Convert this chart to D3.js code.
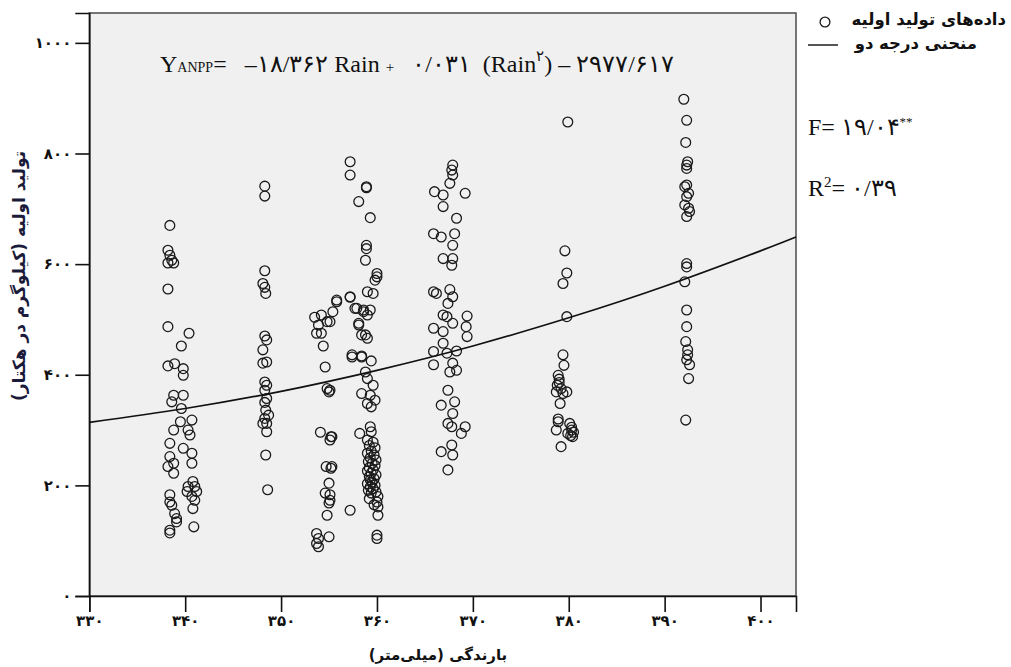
<!DOCTYPE html>
<html>
<head>
<meta charset="utf-8">
<script src="https://cdn.jsdelivr.net/npm/d3@7"></script>
<style>
  body { margin: 0; background: #fff; }
  svg { display: block; }
  text { white-space: pre; }
</style>
</head>
<body>
<svg id="chart" width="1011" height="667"></svg>
<script>
// ---------------- data ----------------
const xTicks = [330, 340, 350, 360, 370, 380, 390, 400];
const yTicks = [0, 200, 400, 600, 800, 1000];

// observed points [rain (mm), ANPP (kg/ha)]
const observations = [
  // ~339
  [338.4,670],[338.2,625],[338.4,616],[338.6,607],[338.8,602],[338.2,602],[338.2,555],[338.2,487],
  [340.4,475],[339.6,452],[338.2,416],[338.9,420],[339.8,411],[339.8,399],[338.8,363],[339.8,363],
  [338.6,351],[339.6,339],[340.7,318],[339.5,315],[338.8,300],[340.3,300],[340.5,291],[338.4,276],
  [339.8,267],[340.7,258],[338.4,252],[338.8,240],[340.7,240],[338.2,234],[338.8,222],[340.8,207],
  [340.3,198],[341.0,198],[341.2,189],[340.2,189],[340.7,180],[338.4,183],[341.0,173],[338.4,170],
  [338.6,164],[340.8,158],[338.9,149],[339.1,140],[339.1,134],[340.9,125],[338.4,119],[338.4,114],
  // ~348
  [348.3,741],[348.3,723],[348.3,588],[348.1,565],[348.3,558],[348.4,547],[348.3,470],[348.5,463],
  [348.1,445],[348.1,421],[348.5,423],[348.3,387],[348.5,381],[348.3,372],[348.5,357],[348.4,336],
  [348.7,327],[348.3,321],[348.5,312],[348.1,312],[348.5,297],[348.4,255],[348.6,192],[348.3,350],
  // ~354-358
  [353.5,504],[354.2,508],[354.8,496],[353.9,490],[353.7,475],[354.2,475],[354.4,452],[354.6,414],
  [354.8,375],[355.0,369],[354.1,296],[355.2,288],[355.1,282],[354.7,234],[355.2,231],[355.0,204],
  [354.6,186],[355.1,183],[355.0,168],[354.8,146],[353.7,113],[353.9,104],[355.0,107],[353.7,95],
  [353.9,89],[355.8,535],[357.2,540],[357.9,520],[358.6,517],[359.0,508],[358.1,490],[358.4,472],
  [357.4,436],[358.4,434],[357.2,155],[355.1,496],[355.1,372],[355.3,288],[355.3,234],[355.1,173],
  [355.8,532],[355.4,514],
  // ~359-360
  [357.2,785],[357.2,761],[358.9,740],[358.9,738],[358.1,713],[359.3,684],[358.9,634],[358.9,628],
  [358.8,607],[360.0,583],[360.0,577],[359.8,571],[359.0,550],[359.6,547],[357.2,541],[357.7,520],
  [358.6,514],[359.3,517],[358.1,493],[358.8,472],[359.0,466],[357.4,432],[358.4,432],[359.4,425],
  [358.8,405],[359.0,393],[359.6,381],[358.4,366],[359.3,363],[359.0,348],[359.4,342],[359.8,354],
  [358.2,294],[359.3,306],[359.4,297],
  [359.0,282],[359.6,278],[359.2,272],[359.8,268],[359.4,262],[359.0,258],[359.7,255],[359.3,250],
  [359.9,246],[359.1,243],[359.5,240],[359.8,236],[359.2,232],[359.6,228],[359.0,226],[359.4,222],
  [359.9,219],[359.2,216],[359.7,212],[359.3,210],[359.5,206],[359.0,203],[359.8,200],[359.3,197],
  [359.6,194],[359.1,191],[359.9,188],[359.4,186],[360.1,180],[359.2,176],[360.0,170],[359.7,165],
  [360.1,161],[360.1,146],[360.0,110],[360.0,104],
  // ~367
  [367.9,779],[367.8,770],[367.9,761],[367.6,746],[366.0,731],[366.9,725],[369.2,728],[366.9,704],
  [368.3,683],[365.9,655],[366.7,649],[368.1,655],[367.9,634],[366.9,610],[367.9,610],[367.8,598],
  [365.9,550],[366.2,547],[367.6,554],[367.9,541],[367.4,529],[366.9,508],[367.3,505],[369.4,506],
  [369.3,487],[369.4,469],[365.9,484],[366.9,478],[367.9,493],[366.9,457],[365.9,442],[367.3,439],
  [368.3,443],[365.9,418],[367.9,421],[367.6,405],[368.3,408],[367.4,372],[366.7,345],[368.1,351],
  [367.9,330],[367.4,312],[367.8,306],[369.2,306],[368.8,294],[366.7,261],[367.8,273],[367.9,255],
  [367.4,228],
  // ~379
  [379.9,857],[379.6,624],[379.8,584],[379.4,565],[379.8,505],[379.4,436],[379.5,417],[378.9,399],
  [379.0,392],[378.8,381],[378.7,369],[379.8,369],[379.1,348],[379.4,366],[378.9,315],[378.7,300],
  [380.1,312],[380.3,300],[380.4,288],[379.9,294],[379.2,270],[380.3,305],[380.5,296],[380.2,290],
  [378.9,320],[379.0,386],[379.2,375],
  // ~392
  [392.0,898],[392.3,860],[392.2,820],[392.4,785],[392.3,779],[392.3,773],[392.3,743],[392.1,740],
  [392.5,728],[392.3,722],[392.1,707],[392.5,701],[392.6,695],[392.3,686],[392.3,601],[392.3,595],
  [392.1,568],[392.3,517],[392.3,487],[392.2,460],[392.4,445],[392.4,436],[392.3,427],[392.6,418],
  [392.5,393],[392.2,318]
];

// fitted quadratic curve
const curveRain = [330, 340, 350, 360, 370, 380, 390, 400, 403.7];
const curveAnpp = [314, 339, 370, 408, 452, 503, 560, 624, 649];

// ---------------- drawing ----------------
const fa = n => String(n).replace(/\d/g, d => "۰۱۲۳۴۵۶۷۸۹"[d]);
const RLM = "\u200F";
const faFont = "'DejaVu Sans', sans-serif";
const serif = "'Liberation Serif', 'Times New Roman', serif";

const svg = d3.select("#chart");
const L = 89.3, R = 796, T = 13, B = 596;
const x = d3.scaleLinear().domain([330, 403.7]).range([L, R]);
const y = d3.scaleLinear().domain([0, 1054]).range([B, T]);

// plot background
svg.append("rect").attr("x", L).attr("y", T).attr("width", R - L).attr("height", B - T)
  .attr("fill", "#f0f0f0").attr("stroke", "#555").attr("stroke-width", 1.6);

// axes
const yAxis = d3.axisLeft(y).tickValues(yTicks).tickSize(14).tickPadding(4).tickFormat(fa);
const gy = svg.append("g").attr("transform", `translate(${L},0)`).call(yAxis);
const xAxis = d3.axisBottom(x).tickValues(xTicks).tickSize(16).tickPadding(3).tickFormat(fa);
const gx = svg.append("g").attr("transform", `translate(0,${B})`).call(xAxis);
[gx, gy].forEach(g => {
  g.select(".domain").attr("stroke", "#111").attr("stroke-width", 1.6);
  g.selectAll(".tick line").attr("stroke", "#111").attr("stroke-width", 1.6);
  g.selectAll(".tick text").attr("font-family", faFont).attr("font-weight", "bold")
    .attr("font-size", 15).attr("fill", "#111");
});

// points
svg.append("g").selectAll("circle").data(observations).join("circle")
  .attr("cx", d => x(d[0])).attr("cy", d => y(d[1])).attr("r", 4.9)
  .attr("fill", "none").attr("stroke", "#1a1a1a").attr("stroke-width", 1.3);

// curve
const curveData = curveRain.map((r, i) => [r, curveAnpp[i]]);
svg.append("path").datum(curveData)
  .attr("d", d3.line().x(d => x(d[0])).y(d => y(d[1])).curve(d3.curveNatural))
  .attr("fill", "none").attr("stroke", "#111").attr("stroke-width", 1.7);

// equation
const eq = svg.append("text").attr("x", 160).attr("y", 72)
  .attr("font-family", serif).attr("font-size", 24).attr("fill", "#111");
eq.append("tspan").text("Y");
eq.append("tspan").attr("font-size", 14).text("ANPP");
eq.append("tspan").text("=   \u2013");
eq.append("tspan").attr("letter-spacing", 2).text(fa("18") + "/" + fa("362"));
eq.append("tspan").text(" Rain ");
eq.append("tspan").attr("font-size", 15).text("+");
eq.append("tspan").text("   ");
eq.append("tspan").attr("letter-spacing", 2).text(fa("0") + "/" + fa("031"));
eq.append("tspan").text("  (Rain");
eq.append("tspan").attr("font-size", 15).attr("dy", -11).text(fa("2"));
eq.append("tspan").attr("dy", 11).text(") \u2013 ");
eq.append("tspan").attr("letter-spacing", 1.5).text(fa("2977") + "/" + fa("617"));

// stats
const fT = svg.append("text").attr("x", 808).attr("y", 135)
  .attr("font-family", serif).attr("font-size", 24).attr("fill", "#111");
fT.append("tspan").text("F= ");
fT.append("tspan").attr("letter-spacing", 2).text(fa("19") + "/" + fa("04"));
fT.append("tspan").attr("font-size", 13).attr("dy", -9).text("**");
const rT = svg.append("text").attr("x", 808).attr("y", 196)
  .attr("font-family", serif).attr("font-size", 24).attr("fill", "#111");
rT.append("tspan").text("R");
rT.append("tspan").attr("font-size", 15).attr("dy", -9).text("2");
rT.append("tspan").attr("dy", 9).text("= ");
rT.append("tspan").attr("letter-spacing", 2).text(fa("0") + "/" + fa("39"));

// legend
svg.append("circle").attr("cx", 825).attr("cy", 22).attr("r", 4.9)
  .attr("fill", "none").attr("stroke", "#1a1a1a").attr("stroke-width", 1.3);
svg.append("line").attr("x1", 808).attr("x2", 838).attr("y1", 45).attr("y2", 45)
  .attr("stroke", "#555").attr("stroke-width", 2);
svg.append("text").attr("x", 1006).attr("y", 19).attr("dy", "0.35em").attr("text-anchor", "end")
  .attr("font-family", faFont).attr("font-weight", "bold").attr("font-size", 16.5).attr("fill", "#111")
  .text(RLM + "داده‌های تولید اولیه" + RLM);
svg.append("text").attr("x", 977).attr("y", 43).attr("dy", "0.35em").attr("text-anchor", "end")
  .attr("font-family", faFont).attr("font-weight", "bold").attr("font-size", 16.5).attr("fill", "#111")
  .text(RLM + "منحنی درجه دو" + RLM);

// axis titles
svg.append("text").attr("transform", "translate(19,276) rotate(-90)").attr("text-anchor", "middle")
  .attr("dy", "0.35em").attr("font-family", faFont).attr("font-weight", "bold").attr("font-size", 17)
  .attr("fill", "#1a1a3a").text(RLM + "تولید اولیه (کیلوگرم در هکتار)" + RLM);
svg.append("text").attr("x", 438).attr("y", 655).attr("text-anchor", "middle").attr("dy", "0.35em")
  .attr("font-family", faFont).attr("font-weight", "bold").attr("font-size", 15).attr("fill", "#111")
  .text(RLM + "بارندگی (میلی‌متر)" + RLM);
</script>
</body>
</html>
